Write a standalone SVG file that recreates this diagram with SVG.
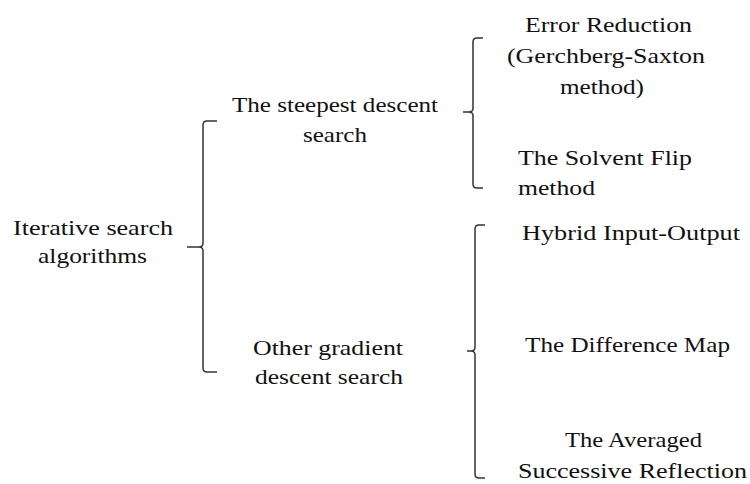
<svg xmlns="http://www.w3.org/2000/svg" width="750" height="484" viewBox="0 0 750 484">
<style>
text{font-family:"Liberation Serif","Times New Roman",serif;font-size:22px;fill:#111}
.b{fill:none;stroke:#333;stroke-width:1.5}
</style>
<rect width="750" height="484" fill="#fff"/>
<g id="root"><text x="13" y="235" textLength="160" lengthAdjust="spacingAndGlyphs">Iterative search</text><text x="38" y="263" textLength="109" lengthAdjust="spacingAndGlyphs">algorithms</text></g>
<g id="steepest"><text x="232" y="112" textLength="206" lengthAdjust="spacingAndGlyphs">The steepest descent</text><text x="303" y="142" textLength="64" lengthAdjust="spacingAndGlyphs">search</text></g>
<g id="other"><text x="253" y="355" textLength="150" lengthAdjust="spacingAndGlyphs">Other gradient</text><text x="255" y="384" textLength="148" lengthAdjust="spacingAndGlyphs">descent search</text></g>
<g id="er"><text x="525" y="32" textLength="167" lengthAdjust="spacingAndGlyphs">Error Reduction</text><text x="507" y="63" textLength="198" lengthAdjust="spacingAndGlyphs">(Gerchberg-Saxton</text><text x="560" y="94" textLength="84" lengthAdjust="spacingAndGlyphs">method)</text></g>
<g id="sf"><text x="518" y="165" textLength="174" lengthAdjust="spacingAndGlyphs">The Solvent Flip</text><text x="518" y="195" textLength="77" lengthAdjust="spacingAndGlyphs">method</text></g>
<g id="hio"><text x="522" y="240" textLength="218" lengthAdjust="spacingAndGlyphs">Hybrid Input-Output</text></g>
<g id="dm"><text x="525" y="352" textLength="205" lengthAdjust="spacingAndGlyphs">The Difference Map</text></g>
<g id="asr"><text x="565" y="447" textLength="137" lengthAdjust="spacingAndGlyphs">The Averaged</text><text x="518" y="478" textLength="229" lengthAdjust="spacingAndGlyphs">Successive Reflection</text></g>
<g id="connectors">
<path class="b" d="M217,121 H207 Q203,121 203,125 V243 Q203,247 199,247 H187 M199,247 Q203,247 203,251 V368 Q203,372 207,372 H217"/>
<path class="b" d="M483,38 H477 Q473,38 473,42 V108 Q473,112 469,112 H463 M469,112 Q473,112 473,116 V184 Q473,188 477,188 H483"/>
<path class="b" d="M485,225 H479 Q475,225 475,229 V347 Q475,351 471,351 H467 M471,351 Q475,351 475,355 V474 Q475,478 479,478 H485"/>
</g>
</svg>
